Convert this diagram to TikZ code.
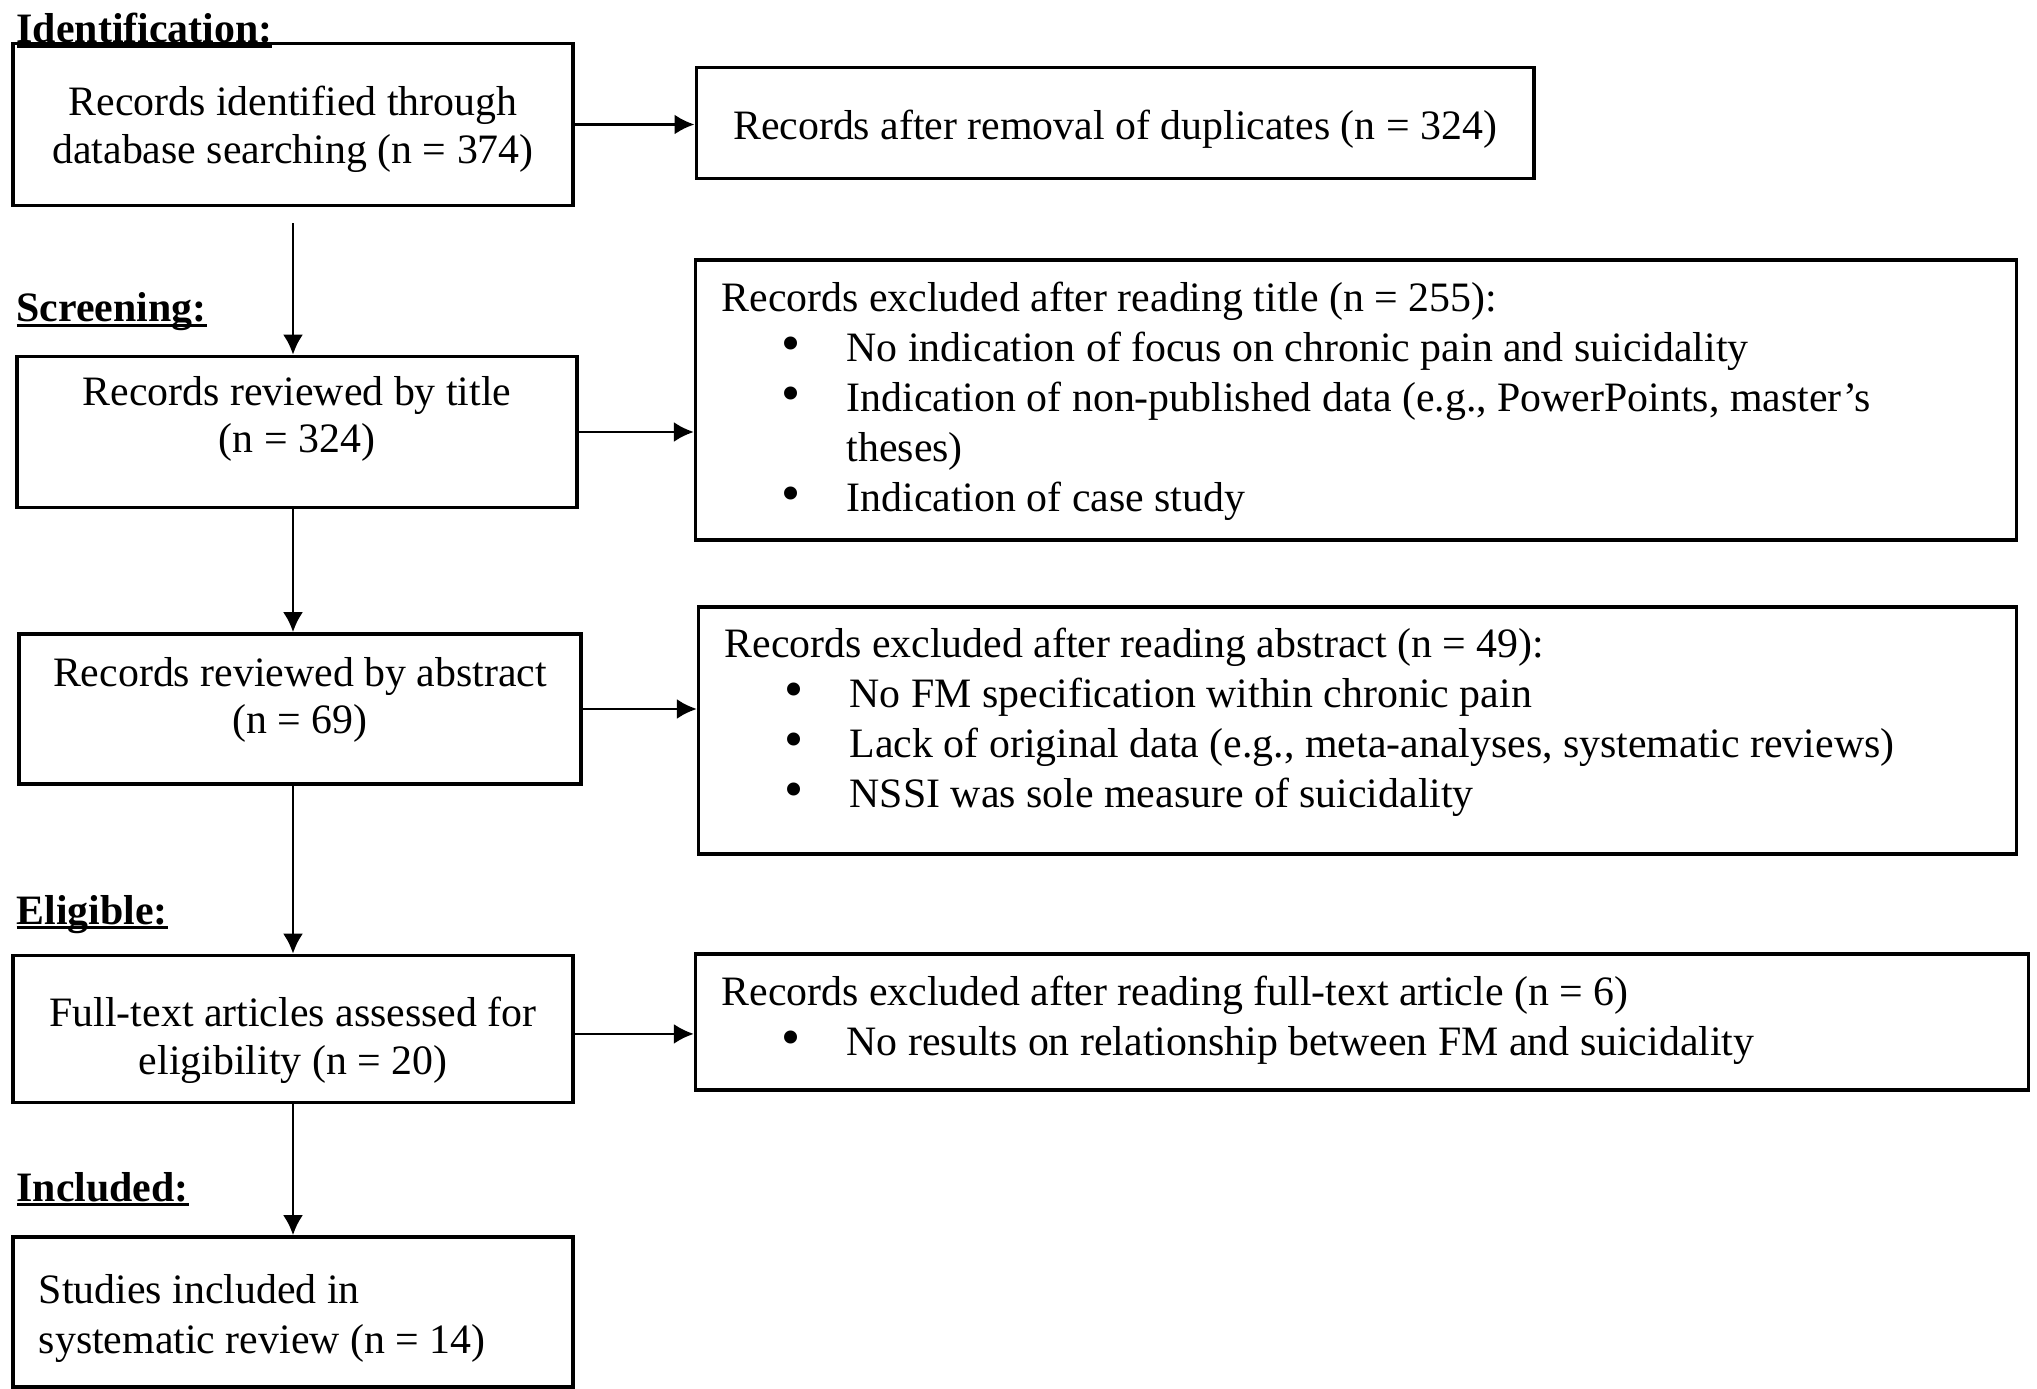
\documentclass[tikz,border=0pt]{standalone}
\usepackage{fontspec}
\usepackage{graphicx}
\setmainfont{Liberation Serif}
\usetikzlibrary{arrows.meta}

\newcommand{\flowfont}{\fontsize{11.9}{13.6}\selectfont}
\newcommand{\listfont}{\fontsize{11.9}{14.2}\selectfont}
% underlined stage heading
\newcommand{\stagehead}[1]{\setbox0\hbox{\bfseries #1}\rlap{\rule[-1.5pt]{\wd0}{0.9pt}}\box0}
% bullet line inside an exclusion box
\newcommand{\bitem}[1]{\hspace*{0.60cm}\makebox[0.65cm][l]{\scalebox{1.3}{\textbullet}}#1}

\tikzset{
	box/.style={draw,line width=1pt,rectangle,inner sep=0pt},
	boxtext/.style={align=center,font=\flowfont,inner sep=0pt},
	listtext/.style={align=flush left,font=\listfont,inner sep=0pt},
	stage/.style={anchor=base west,inner sep=0pt,font=\flowfont},
	flow/.style={line width=0.8pt,-{Latex[length=0.2cm,width=0.2cm]}}
}

\begin{document}
\begin{tikzpicture}[x=0.01cm,y=-0.01cm]
	\useasboundingbox (0,0) rectangle (2037,1389);

	% stage headings
	\node[stage] (hid) at (16,43) {\stagehead{Identification:}};
	\node[stage] (hsc) at (16,322) {\stagehead{Screening:}};
	\node[stage] (hel) at (16,924) {\stagehead{Eligible:}};
	\node[stage] (hin) at (16,1201) {\stagehead{Included:}};

	% boxes
	\node[box,minimum width=5.60cm,minimum height=1.62cm] (b1) at (293,124.5) {};
	\node[box,minimum width=8.37cm,minimum height=1.11cm] (b2) at (1115,123) {};
	\node[box,minimum width=5.60cm,minimum height=1.51cm] (b3) at (297,432) {};
	\node[box,minimum width=13.20cm,minimum height=2.80cm] (b4) at (1356,400) {};
	\node[box,minimum width=5.62cm,minimum height=1.50cm] (b5) at (300,709) {};
	\node[box,minimum width=13.17cm,minimum height=2.47cm] (b6) at (1357.5,730.5) {};
	\node[box,minimum width=5.60cm,minimum height=1.47cm] (b7) at (293,1029) {};
	\node[box,minimum width=13.32cm,minimum height=1.36cm] (b8) at (1362,1022) {};
	\node[box,minimum width=5.60cm,minimum height=1.50cm] (b9) at (293,1312) {};

	% box texts
	\node[boxtext] (t1) at (293,129) {Records identified through\\database searching (n = 374)};
	\node[boxtext] (t2) at (1115,129.5) {Records after removal of duplicates (n = 324)};
	\node[boxtext] (t3) at (297,419) {Records reviewed by title\\(n = 324)};
	\node[listtext,text width=12.68cm] (t4) at (1356,401)
		{Records excluded after reading title (n = 255):\\
		\bitem{No indication of focus on chronic pain and suicidality}\\
		\bitem{Indication of non-published data (e.g., PowerPoints, master's}\\
		\hspace*{1.25cm}theses)\\
		\bitem{Indication of case study}};
	\node[boxtext] (t5) at (300,700) {Records reviewed by abstract\\(n = 69)};
	\node[listtext,text width=12.65cm] (t6) at (1357.5,722.5)
		{Records excluded after reading abstract (n = 49):\\
		\bitem{No FM specification within chronic pain}\\
		\bitem{Lack of original data (e.g., meta-analyses, systematic reviews)}\\
		\bitem{NSSI was sole measure of suicidality}};
	\node[boxtext] (t7) at (293,1040) {Full-text articles assessed for\\eligibility (n = 20)};
	\node[listtext,text width=12.80cm] (t8) at (1362,1020)
		{Records excluded after reading full-text article (n = 6)\\
		\bitem{No results on relationship between FM and suicidality}};
	\node[listtext,text width=5.08cm] (t9) at (293,1318.5)
		{Studies included in\\systematic review (n = 14)};

	% arrows
	\draw[flow] (b1.east) -- (b1.east -| b2.west);
	\draw[flow] (b3.east) -- (b3.east -| b4.west);
	\draw[flow] (b5.east) -- (b5.east -| b6.west);
	\draw[flow] ([yshift=-1.4pt]b7.east) -- ([yshift=-1.4pt]b7.east -| b8.west);

	\draw[flow,shorten <=0.16cm] (b1.south) -- (b1.south |- b3.north);
	\draw[flow] (b3.south -| b1) -- (b5.north -| b1);
	\draw[flow] (b5.south -| b1) -- (b7.north -| b1);
	\draw[flow] (b7.south) -- (b9.north);
\end{tikzpicture}
\end{document}
